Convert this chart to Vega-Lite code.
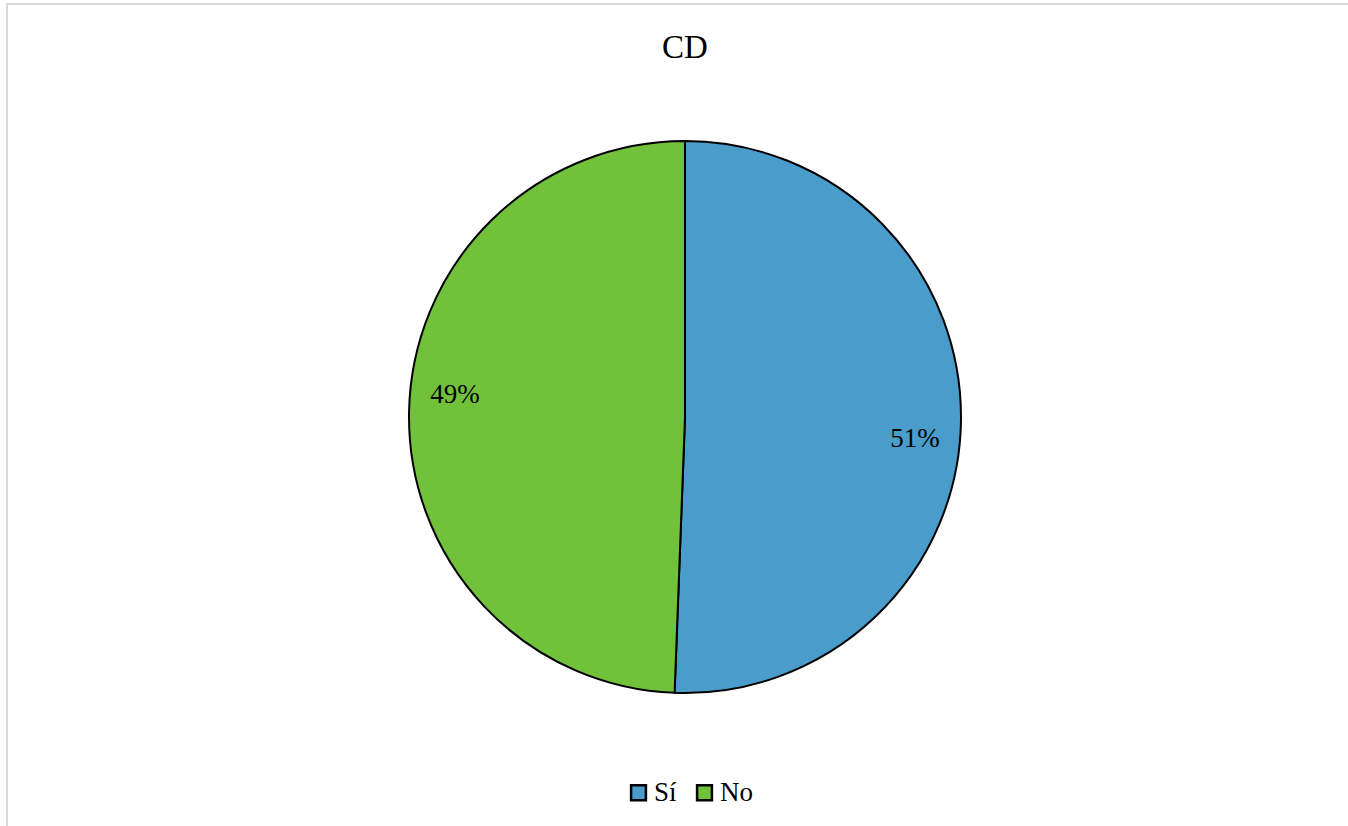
{
  "$schema": "https://vega.github.io/schema/vega-lite/v6.json",
  "autosize": {"type": "none"},
  "padding": {"left": 7, "top": 4, "right": 0, "bottom": 0},
  "width": 1356,
  "height": 826,
  "background": "white",
  "view": {"stroke": "#D9D9D9", "strokeWidth": 2},
  "title": {
    "text": "CD",
    "font": "Times New Roman, Liberation Serif, serif",
    "fontSize": 33,
    "fontWeight": "normal",
    "color": "black",
    "anchor": "middle",
    "frame": "group",
    "orient": "top",
    "baseline": "alphabetic",
    "offset": -87
  },
  "data": {
    "values": [
      {"respuesta": "Sí", "orden": 1, "porcentaje": 0.506},
      {"respuesta": "No", "orden": 2, "porcentaje": 0.494}
    ]
  },
  "encoding": {
    "theta": {"field": "porcentaje", "type": "quantitative", "stack": true},
    "order": {"field": "orden", "type": "quantitative"}
  },
  "layer": [
    {
      "mark": {"type": "arc", "outerRadius": 276, "stroke": "black", "strokeWidth": 2},
      "encoding": {
        "color": {
          "field": "respuesta",
          "type": "nominal",
          "scale": {"domain": ["Sí", "No"], "range": ["#4A9CCA", "#71C13B"]},
          "legend": {
            "title": null,
            "orient": "none",
            "direction": "horizontal",
            "legendX": 618,
            "legendY": 775,
            "symbolType": "square",
            "symbolSize": 220,
            "symbolStrokeColor": "black",
            "symbolStrokeWidth": 2.5,
            "symbolOpacity": 1,
            "labelFont": "Times New Roman, Liberation Serif, serif",
            "labelFontSize": 27,
            "labelColor": "black",
            "labelOffset": 2,
            "columnPadding": 14
          }
        }
      }
    },
    {
      "mark": {"type": "text", "radius": 231, "thetaOffset": 0.075, "font": "Times New Roman, Liberation Serif, serif", "fontSize": 27, "color": "black", "baseline": "middle", "align": "center"},
      "encoding": {
        "text": {"field": "porcentaje", "type": "quantitative", "format": ".0%"}
      }
    }
  ],
  "config": {
    "view": {"stroke": "#D9D9D9", "strokeWidth": 2}
  }
}
